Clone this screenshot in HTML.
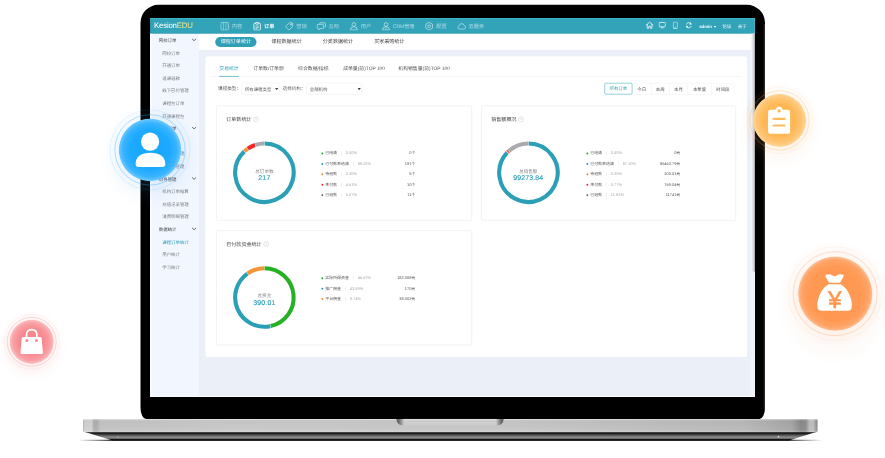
<!DOCTYPE html>
<html lang="zh-CN">
<head>
<meta charset="utf-8">
<title>KesionEDU 课程订单统计</title>
<style>
*{box-sizing:border-box;margin:0;padding:0}
html,body{width:885px;height:458px;background:#fff;overflow:hidden}
body{position:relative;text-rendering:geometricPrecision;-webkit-font-smoothing:antialiased;font-family:"Liberation Sans","Noto Sans CJK SC",sans-serif}
.abs{position:absolute}
/* laptop */
.bezel{position:absolute;left:140.6px;top:4.9px;width:624.5px;height:415.2px;background:#000;border-radius:18px 18px 6px 6px / 18px 18px 11px 11px}
.screen{position:absolute;left:150px;top:18px;width:605px;height:379px;overflow:hidden;background:#eaeff8}
.base{position:absolute;left:0;top:0;width:885px;height:458px}
/* ui */
.ui{position:absolute;left:.3px;top:0;width:1920px;height:1202px;transform:scale(.3151);transform-origin:0 0;background:#eaeff8;color:#333;font-size:14px}
.hd{position:absolute;left:0;top:0;width:1920px;height:50px;background:#33a3b9;border-top:3px solid #3cb8ce;box-shadow:inset 4px 0 0 #2f97ac,inset -4px 0 0 #3bb2c8,inset 0 -2px 0 #2d9bb0}
.logo{position:absolute;left:13px;top:4.500px;font-size:25px;line-height:33px;color:#fff;letter-spacing:-.75px;}
.logo em{font-style:normal;color:#f1e88a}
.nav{position:absolute;left:206.4px;top:-1px;height:48px;display:flex;list-style:none}
.nav li{display:flex;align-items:center;padding:0 0 0 18px;width:102.4px;font-size:16.5px;color:#a9dde7;height:48px;white-space:nowrap}
.nav li svg{width:28px;height:28px;margin:0 8px 0 -1px;flex:none;opacity:.8}
.nav li.on{color:#fff;font-weight:bold}
.nav li.on svg{opacity:1}
.hr{position:absolute;top:-1px;height:48px;display:flex;align-items:center;color:#e8f6f9;font-size:15px;white-space:nowrap}
.hr svg{display:block;position:relative;top:-3px}
.side{position:absolute;left:0;top:50px;width:156px;height:1152px;background:#f1f6ff;border-left:5px solid #fafcff}
.side div{position:absolute;left:0;width:151px;height:40px;line-height:43px;font-size:14px;white-space:nowrap}
.side .g{padding-left:23px;color:#444}
.side .s{padding-left:34px;color:#7d8088}
.side .s.on{color:#2a9fb6}
.side .g svg{position:absolute;left:127px;top:14px}
.sub{position:absolute;left:156px;top:50px;width:1764px;height:51px;background:#fff}
.sub a{position:absolute;top:10px;height:32px;line-height:32px;width:131px;text-align:center;font-size:16px;color:#444;border-radius:16px;white-space:nowrap}
.sub a.on{background:#2f9fb5;color:#fff}
.sbar{position:absolute;left:1906px;top:50px;width:14px;height:1152px;background:#f0f3f9}
.sbar i{position:absolute;left:5px;top:0;width:9px;height:755px;background:linear-gradient(90deg,#e6e8ee,#d3d6dc 45%,#b3b5ba 80%,#8f9196);display:block}
.card{position:absolute;left:176px;top:121px;width:1719px;height:955px;background:#fff;border-radius:9px}
.tabs{position:absolute;left:196px;top:140px;width:1678px;height:46px;border-bottom:2px solid #edf0f2}
.tabs a{position:absolute;top:0;height:46px;line-height:40px;font-size:15.4px;color:#555;white-space:nowrap}
.tabs a.on{color:#2a9fb6;border-bottom:2px solid #2a9fb6}
.lab{position:absolute;top:208px;height:36px;line-height:36px;font-size:14.5px;color:#606266;white-space:nowrap}
.sel{position:absolute;top:206px;height:37px;line-height:38px;border:1.5px solid #d9e5e8;border-radius:5px;font-size:14px;color:#555;padding-left:10px;white-space:nowrap;background:#fff}
.sel:after{content:"";position:absolute;right:3px;top:15px;border:5px solid transparent;border-top:7px solid #444;border-bottom:0}
.bt{position:absolute;top:206px;height:37px;display:flex}
.bt span{display:block;height:37px;line-height:38px;color:#4a4a4a;border:1.5px solid #dfe7e8;border-left:0;font-size:14px;text-align:center;white-space:nowrap}
.bt span.on{border:2px solid #5ab8ca;color:#2a9fb6;border-radius:4px;line-height:35px}
.panel{position:absolute;border:2px solid #e9eeee;border-radius:5px;background:#fff}
.ptitle{position:absolute;left:30px;top:28px;font-size:16px;line-height:30px;color:#444;white-space:nowrap}
.info{display:inline-block;vertical-align:middle;margin:-2px 0 0 6px;width:17px;height:17px;border:1.6px solid #aaa;border-radius:50%;text-align:center;line-height:13px;font-size:12px;color:#999}
.info i{font-style:normal;font-family:"Liberation Serif",serif}
.donut{position:absolute;left:40px;top:101px}
.dc{position:absolute;left:40px;top:101px;width:220px;height:220px;text-align:center}
.dl{margin-top:97px;font-size:14.5px;line-height:18px;color:#888}
.dv{font-size:22px;line-height:21px;color:#2a9fb6;letter-spacing:.5px;-webkit-text-stroke:.45px #2a9fb6}
.lg{position:absolute;left:330.5px;top:133px;width:299.5px;list-style:none}
.lg li{position:relative;height:33px;line-height:33px;font-size:12.5px;color:#555;white-space:nowrap;display:flex;align-items:center}
.lg b{width:6px;height:6px;border-radius:50%;margin:0 6.5px 0 1px;flex:none}
.lg .sp{width:2px;height:13px;background:#e6e8ea;margin:0 13px 0 13px}
.lg .p{color:#a6a8ab}
.lg .v{margin-left:auto;color:#555}
/* floating badges */
.fb{position:absolute;border-radius:50%}
.ring{position:absolute;border-radius:50%;border-style:solid}
</style>
</head>
<body>
<svg class="base" viewBox="0 0 885 458"><path d="M158.500 4.800 H747 A18 18 0 0 1 765 22.800 V408 A6 11.200 0 0 1 759 419.200 H146.500 A6 11.200 0 0 1 140.500 408 V22.800 A18 18 0 0 1 158.500 4.800 Z" fill="#000"/><path d="M764.300 24 V409" stroke="#262626" stroke-width="1.400"/></svg>
<svg class="base" viewBox="0 0 885 458">
 <defs>
  <linearGradient id="bg1" gradientUnits="userSpaceOnUse" x1="83" y1="0" x2="817.6" y2="0">
   <stop offset="0" stop-color="#b4b4b4"/><stop offset=".0022" stop-color="#d0d0d0"/><stop offset=".012" stop-color="#d2d2d2"/><stop offset=".0145" stop-color="#b0b0b0"/><stop offset=".018" stop-color="#adadad"/><stop offset=".024" stop-color="#c3c3c3"/>
   <stop offset=".2" stop-color="#c9c9c9"/><stop offset=".6" stop-color="#c6c6c6"/><stop offset=".9" stop-color="#b9b9b9"/>
   <stop offset=".965" stop-color="#a6a6a6"/><stop offset=".977" stop-color="#8a8a8a"/><stop offset=".984" stop-color="#8e8e8e"/><stop offset=".989" stop-color="#bdbdbd"/><stop offset=".994" stop-color="#c0c0c0"/><stop offset=".9975" stop-color="#9c9c9c"/><stop offset="1" stop-color="#8c8c8c"/>
  </linearGradient>
  <linearGradient id="bg2" x1="0" y1="0" x2="0" y2="1">
   <stop offset="0" stop-color="#151515"/><stop offset=".16" stop-color="#1b1b1b"/><stop offset=".4" stop-color="#5a5a5a"/><stop offset=".62" stop-color="#909090"/><stop offset=".76" stop-color="#6e6e6e"/><stop offset=".86" stop-color="#161616"/><stop offset="1" stop-color="#0c0c0c"/>
  </linearGradient>
  <linearGradient id="bg4" x1="0" y1="0" x2="0" y2="1">
   <stop offset="0" stop-color="#fff" stop-opacity=".55"/><stop offset=".1" stop-color="#fff" stop-opacity=".1"/><stop offset=".2" stop-color="#000" stop-opacity=".02"/><stop offset=".8" stop-color="#fff" stop-opacity=".03"/><stop offset=".95" stop-color="#fff" stop-opacity=".18"/><stop offset="1" stop-color="#000" stop-opacity=".15"/>
  </linearGradient>
  <linearGradient id="sh1" gradientUnits="userSpaceOnUse" x1="78" y1="0" x2="822" y2="0">
   <stop offset="0" stop-color="#000" stop-opacity="0"/><stop offset=".045" stop-color="#000" stop-opacity=".75"/><stop offset=".955" stop-color="#000" stop-opacity=".75"/><stop offset="1" stop-color="#000" stop-opacity="0"/>
  </linearGradient>
  <linearGradient id="ng" gradientUnits="userSpaceOnUse" x1="396" y1="0" x2="504" y2="0"><stop offset="0" stop-color="#8a8a8a"/><stop offset=".018" stop-color="#5c5c5c"/><stop offset=".04" stop-color="#858585"/><stop offset=".075" stop-color="#cdcdcd"/><stop offset=".925" stop-color="#cdcdcd"/><stop offset=".96" stop-color="#858585"/><stop offset=".982" stop-color="#5c5c5c"/><stop offset="1" stop-color="#8a8a8a"/></linearGradient>
  <radialGradient id="nc" cx=".5" cy=".5" r=".5"><stop offset="0" stop-color="#555" stop-opacity=".75"/><stop offset=".45" stop-color="#777" stop-opacity=".45"/><stop offset="1" stop-color="#888" stop-opacity="0"/></radialGradient>
  <clipPath id="ncp"><path d="M396 418.900 L504 418.900 Q502.500 425.300 497.500 425.300 L402.500 425.300 Q397.500 425.300 396 418.900 Z"/></clipPath>
 </defs>
 <rect x="78" y="439.700" width="744" height="1.300" fill="url(#sh1)"/>
 <path d="M85 432 L816 432 L789 440.500 L112.500 440.500 Z" fill="url(#bg2)"/>
 <path d="M83 420.100 Q83 418.900 84.500 418.900 L816.100 418.900 Q817.600 418.900 817.600 420.100 L817.600 430.700 Q817.600 432.300 815.600 432.300 L85 432.300 Q83 432.300 83 430.700 Z" fill="url(#bg1)"/>
 <path d="M83 420.100 Q83 418.900 84.500 418.900 L816.100 418.900 Q817.600 418.900 817.600 420.100 L817.600 430.700 Q817.600 432.300 815.600 432.300 L85 432.300 Q83 432.300 83 430.700 Z" fill="url(#bg4)"/>
 <path d="M396 418.900 L504 418.900 Q502.500 425.300 497.500 425.300 L402.500 425.300 Q397.500 425.300 396 418.900 Z" fill="url(#ng)"/>
 <path d="M403.500 419.400 H496.500" stroke="#fff" stroke-opacity=".45" stroke-width=".8"/>
 <circle cx="778.500" cy="436.700" r=".9" fill="#eee" opacity=".8"/><circle cx="118" cy="436.900" r=".7" fill="#ddd" opacity=".6"/>
</svg>
<div class="screen">
<div class="ui">
 <div class="hd">
  <div class="logo">Kesion<em>EDU</em></div>
  <ul class="nav">
   <li><svg viewBox="0 0 26 26" fill="none" stroke="#fff" stroke-width="1.8"><rect x="2" y="1.5" width="22" height="23" rx="4"/><path d="M9.5 2v22M16.5 2v22" stroke-width="1.3"/></svg>内容</li>
   <li class="on"><svg viewBox="0 0 26 26" fill="none" stroke="#fff" stroke-width="2.4"><rect x="3.5" y="4.5" width="19" height="20" rx="2.5"/><rect x="8.5" y="1.8" width="9" height="5" rx="1.5" fill="#33a3b9"/><path d="M8 12.5h10M8 16.5h10M8 20.3h6" stroke-width="1.8"/></svg>订单</li>
   <li><svg viewBox="0 0 26 26" fill="none" stroke="#fff" stroke-width="1.9" stroke-linejoin="round"><path d="M13.5 3 L23 3.5 L23.5 13 L12 24.5 L2 14.5 Z"/><circle cx="18.3" cy="8.2" r="2"/></svg>营销</li>
   <li><svg style="width:31px;margin-left:-4px" viewBox="0 0 28 26" fill="none" stroke="#fff" stroke-width="1.9" stroke-linejoin="round"><path d="M9 5.5 Q9 3 11.5 3 H24 Q26.5 3 26.5 5.5 V13 Q26.5 15.5 24 15.5 H22"/><path d="M2 10 Q2 7.5 4.5 7.5 H18 Q20.500 7.5 20.500 10 V17.5 Q20.500 20 18 20 H11 L6.500 24 V20 H4.500 Q2 20 2 17.500 Z"/></svg>互动</li>
   <li><svg viewBox="0 0 26 26" fill="none" stroke="#fff" stroke-width="1.9"><circle cx="13" cy="8" r="5.5"/><path d="M2.500 24 Q2.500 14.500 13 14.500 Q23.500 14.500 23.500 24 Z" stroke-linejoin="round"/></svg>用户</li>
   <li style="width:137px"><svg viewBox="0 0 26 26" fill="none" stroke="#fff" stroke-width="1.9"><circle cx="13" cy="8" r="5.5"/><path d="M2.500 24 Q2.500 14.500 13 14.500 Q23.500 14.500 23.500 24 Z" stroke-linejoin="round"/><path d="M13 15 v9" stroke-width="1.2"/></svg><span style="letter-spacing:-.8px">CRM</span>管理</li>
   <li><svg viewBox="0 0 26 26" fill="none" stroke="#fff" stroke-width="1.9" stroke-linejoin="round"><path d="M13 1.800 L23 7.400 V18.600 L13 24.200 L3 18.600 V7.400 Z"/><circle cx="13" cy="13" r="4"/></svg>配置</li>
   <li><svg style="width:28px;margin-left:-1px;margin-right:8px" viewBox="0 0 28 26" fill="none" stroke="#fff" stroke-width="1.9" stroke-linejoin="round"><path d="M7.500 22 Q2 22 2 16.800 Q2 12.500 6.500 11.800 Q7.500 5 14.500 5 Q20.500 5 22 10.800 Q26.500 11.500 26.500 16.500 Q26.500 22 21 22 Z"/></svg>云服务</li>
  </ul>
  <div class="hr" style="left:1573px"><svg width="25" height="24" viewBox="0 0 25 24" fill="none" stroke="#fff" stroke-width="2.400" stroke-linejoin="round" stroke-linecap="round"><path d="M2 11.500 L12.500 2 L23 11.500 M5 9.500 V21.500 H10 V15 H15 V21.500 H20 V9.500"/></svg></div>
  <div class="hr" style="left:1614px"><svg width="23" height="22" viewBox="0 0 23 22" fill="none" stroke="#fff" stroke-width="2.400" stroke-linejoin="round"><rect x="1.500" y="2" width="20" height="14" rx="2.500"/><path d="M7 19.500 H16" stroke-width="2.400"/></svg></div>
  <div class="hr" style="left:1659px"><svg width="16" height="24" viewBox="0 0 16 24" fill="none" stroke="#fff" stroke-width="2"><rect x="1.500" y="1.500" width="13" height="21" rx="2.500"/><path d="M5.500 18.500 H10.500" stroke-width="1.600"/></svg></div>
  <div class="hr" style="left:1698px"><svg width="24" height="24" viewBox="0 0 24 24" fill="none" stroke="#fff" stroke-width="2.300"><path d="M4 10 A8.500 8.500 0 0 1 19.500 8 M20 14 A8.500 8.500 0 0 1 4.500 16"/><path d="M17 3.500 L20.500 8.500 L14.500 9.500 Z M7 20.500 L3.500 15.500 L9.500 14.500 Z" fill="#fff" stroke-width="1"/></svg></div>
  <div class="hr" style="left:1743px;font-weight:bold;font-size:14px;letter-spacing:-.2px;padding-top:3px;color:#f2fbfd">admin<span style="display:inline-block;margin-left:6px;border:4.500px solid transparent;border-top:6px solid #fff;border-bottom:0"></span></div>
  <div class="hr" style="left:1816px;font-size:14.5px">论坛</div>
  <div class="hr" style="left:1865px;font-size:14.5px">关于</div>
 </div>
 <div class="side">
  <div class="g" style="top:0">网校订单<svg width="16" height="10" viewBox="0 0 16 10" fill="none" stroke="#3a3a3a" stroke-width="2.4"><path d="M1.500 2l6.500 6 6.500-6"/></svg></div>
  <div class="s" style="top:40px">网校订单</div>
  <div class="s" style="top:80px">开通订单</div>
  <div class="s" style="top:120px">退课退款</div>
  <div class="s" style="top:160px">线下已付管理</div>
  <div class="s" style="top:200px">课程包订单</div>
  <div class="s" style="top:240px">开通课程包</div>
  <div class="g" style="top:280px">商城订单<svg width="16" height="10" viewBox="0 0 16 10" fill="none" stroke="#3a3a3a" stroke-width="2.4"><path d="M1.500 2l6.500 6 6.500-6"/></svg></div>
  <div class="s" style="top:320px">商城订单</div>
  <div class="s" style="top:360px">发货单管理</div>
  <div class="s" style="top:400px">退款单管理</div>
  <div class="g" style="top:440px">财务管理<svg width="16" height="10" viewBox="0 0 16 10" fill="none" stroke="#3a3a3a" stroke-width="2.4"><path d="M1.500 2l6.500 6 6.500-6"/></svg></div>
  <div class="s" style="top:480px">机构订单结算</div>
  <div class="s" style="top:520px">充值记录管理</div>
  <div class="s" style="top:560px">消费明细管理</div>
  <div class="g" style="top:600px">数据统计<svg width="16" height="10" viewBox="0 0 16 10" fill="none" stroke="#3a3a3a" stroke-width="2.4"><path d="M1.500 2l6.500 6 6.500-6"/></svg></div>
  <div class="s on" style="top:640px">课程订单统计</div>
  <div class="s" style="top:680px">用户统计</div>
  <div class="s" style="top:720px">学习统计</div>
 </div>
 <div class="sub">
  <a class="on" style="left:51px">课程订单统计</a>
  <a style="left:212px">课程数据统计</a>
  <a style="left:375px">分类数据统计</a>
  <a style="left:538px">买家采购统计</a>
 </div>
 <div class="sbar"><i></i></div>
 <div style="position:absolute;left:0;top:1199px;width:1920px;height:4px;background:#f9fbff"></div>
 <div class="card"></div>
 <div class="tabs">
  <a class="on" style="left:24px">交易统计</a>
  <a style="left:132px">订单数/订单额</a>
  <a style="left:274px">综合数据/指标</a>
  <a style="left:417px">成单量(前)TOP 100</a>
  <a style="left:592px">机构销售量(前)TOP 100</a>
 </div>
 <div class="lab" style="left:216px">课程类型：</div>
 <div class="sel" style="left:290px;width:121px">所有课程类型</div>
 <div class="lab" style="left:421px">选择机构：</div>
 <div class="sel" style="left:496px;width:177px">全部机构</div>
 <div class="bt" style="left:1442px">
  <span class="on" style="width:89px">所有订单</span><span style="width:60px">今日</span><span style="width:57px">本周</span><span style="width:59px">本月</span><span style="width:75px">本年度</span><span style="width:73px;border-radius:0 4px 4px 0">时间段</span>
 </div>
<div class="panel" style="left:210px;top:278px;width:812px;height:365px">
<div class="ptitle">订单数统计<span class="info"><i>i</i></span></div>
<svg class="donut" style="left:41px" width="220" height="220" viewBox="0 0 220 220"><g fill="none" stroke-width="13.0"><path d="M110.57 17.20A92.8 92.8 0 1 1 46.15 42.66" stroke="#2a9fb6"/><path d="M46.97 41.89A92.8 92.8 0 0 1 56.51 34.17" stroke="#f29438"/><path d="M57.44 33.52A92.8 92.8 0 0 1 80.40 22.05" stroke="#ee2a2a"/><path d="M81.47 21.69A92.8 92.8 0 0 1 109.43 17.20" stroke="#a9abaf"/></g></svg>
<div class="dc" style="left:41px"><div class="dl">总订单数</div><div class="dv">217</div></div>
<ul class="lg">
<li><b style="background:#1aad19"></b><span class="n">已结清</span><span class="sp"></span><span class="p">0.00%</span><span class="v">0个</span></li>
<li><b style="background:#1b8fbf"></b><span class="n">已付款未结清</span><span class="sp"></span><span class="p">88.02%</span><span class="v">191个</span></li>
<li><b style="background:#f5821f"></b><span class="n">待退款</span><span class="sp"></span><span class="p">2.30%</span><span class="v">5个</span></li>
<li><b style="background:#f5222d"></b><span class="n">未付款</span><span class="sp"></span><span class="p">4.61%</span><span class="v">10个</span></li>
<li><b style="background:#555"></b><span class="n">已退款</span><span class="sp"></span><span class="p">5.07%</span><span class="v">11个</span></li>
</ul></div>
<div class="panel" style="left:1051px;top:278px;width:809px;height:365px">
<div class="ptitle">销售额概况<span class="info"><i>i</i></span></div>
<svg class="donut" style="left:37.5px" width="220" height="220" viewBox="0 0 220 220"><g fill="none" stroke-width="13.0"><path d="M110.57 17.20A92.8 92.8 0 1 1 42.36 46.46" stroke="#2a9fb6"/><path d="M43.14 45.64A92.8 92.8 0 0 1 43.57 45.20" stroke="#f29438"/><path d="M44.37 44.39A92.8 92.8 0 0 1 46.78 42.06" stroke="#ee2a2a"/><path d="M47.62 41.29A92.8 92.8 0 0 1 109.43 17.20" stroke="#a9abaf"/></g></svg>
<div class="dc" style="left:37.5px"><div class="dl">总销售额</div><div class="dv">99273.84</div></div>
<ul class="lg">
<li><b style="background:#1aad19"></b><span class="n">已结清</span><span class="sp"></span><span class="p">0.00%</span><span class="v">0元</span></li>
<li><b style="background:#1b8fbf"></b><span class="n">已付款未结清</span><span class="sp"></span><span class="p">87.10%</span><span class="v">86463.79元</span></li>
<li><b style="background:#f5821f"></b><span class="n">待退款</span><span class="sp"></span><span class="p">0.30%</span><span class="v">300.01元</span></li>
<li><b style="background:#f5222d"></b><span class="n">未付款</span><span class="sp"></span><span class="p">0.77%</span><span class="v">769.04元</span></li>
<li><b style="background:#555"></b><span class="n">已退款</span><span class="sp"></span><span class="p">11.83%</span><span class="v">11741元</span></li>
</ul></div>
<div class="panel" style="left:210px;top:674px;width:812px;height:365px">
<div class="ptitle">已付款资金统计<span class="info"><i>i</i></span></div>
<svg class="donut" style="left:41px" width="220" height="220" viewBox="0 0 220 220"><g fill="none" stroke-width="13.0"><path d="M110.57 17.20A92.8 92.8 0 0 1 129.83 200.66" stroke="#27b024"/><path d="M128.72 200.89A92.8 92.8 0 0 1 56.22 34.37" stroke="#2a9fb6"/><path d="M57.15 33.72A92.8 92.8 0 0 1 109.43 17.20" stroke="#f29438"/></g></svg>
<div class="dc" style="left:41px"><div class="dl">总资金</div><div class="dv">390.01</div></div>
<ul class="lg">
<li><b style="background:#1aad19"></b><span class="n">实际所得资金</span><span class="sp"></span><span class="p">46.67%</span><span class="v">182.008元</span></li>
<li><b style="background:#1b8fbf"></b><span class="n">推广佣金</span><span class="sp"></span><span class="p">43.59%</span><span class="v">170元</span></li>
<li><b style="background:#f5821f"></b><span class="n">平台佣金</span><span class="sp"></span><span class="p">9.74%</span><span class="v">38.002元</span></li>
</ul></div>
</div>
</div>
<!-- floating badges -->
<svg class="base" viewBox="0 0 885 458">
<defs>
<radialGradient id="bs1"><stop offset="0" stop-color="rgb(90,150,220)" stop-opacity="0.065"/><stop offset=".55" stop-color="rgb(90,150,220)" stop-opacity="0.065"/><stop offset=".78" stop-color="rgb(90,150,220)" stop-opacity="0.026"/><stop offset="1" stop-color="rgb(90,150,220)" stop-opacity="0"/></radialGradient>
<radialGradient id="gl1"><stop offset="0" stop-color="rgb(90,185,255)" stop-opacity="0.060"/><stop offset="0.68" stop-color="rgb(90,185,255)" stop-opacity="0.060"/><stop offset="0.87" stop-color="rgb(90,185,255)" stop-opacity="0.020"/><stop offset="1" stop-color="rgb(90,185,255)" stop-opacity="0"/></radialGradient>
<radialGradient id="dg1"><stop offset="0" stop-color="#17a7ff"/><stop offset=".62" stop-color="#1ca9ff"/><stop offset=".86" stop-color="#38b4ff"/><stop offset=".975" stop-color="#68c6ff"/><stop offset="1" stop-color="#7fd0ff" stop-opacity=".25"/></radialGradient>
<radialGradient id="bs2"><stop offset="0" stop-color="rgb(230,160,90)" stop-opacity="0.065"/><stop offset=".55" stop-color="rgb(230,160,90)" stop-opacity="0.065"/><stop offset=".78" stop-color="rgb(230,160,90)" stop-opacity="0.026"/><stop offset="1" stop-color="rgb(230,160,90)" stop-opacity="0"/></radialGradient>
<radialGradient id="gl2"><stop offset="0" stop-color="rgb(255,185,100)" stop-opacity="0.060"/><stop offset="0.68" stop-color="rgb(255,185,100)" stop-opacity="0.060"/><stop offset="0.85" stop-color="rgb(255,185,100)" stop-opacity="0.020"/><stop offset="1" stop-color="rgb(255,185,100)" stop-opacity="0"/></radialGradient>
<radialGradient id="dg2"><stop offset="0" stop-color="#ffb550"/><stop offset=".6" stop-color="#ffb856"/><stop offset=".86" stop-color="#ffc676"/><stop offset=".975" stop-color="#ffd494"/><stop offset="1" stop-color="#ffdca8" stop-opacity=".25"/></radialGradient>
<radialGradient id="bs3"><stop offset="0" stop-color="rgb(225,140,90)" stop-opacity="0.065"/><stop offset=".55" stop-color="rgb(225,140,90)" stop-opacity="0.065"/><stop offset=".78" stop-color="rgb(225,140,90)" stop-opacity="0.026"/><stop offset="1" stop-color="rgb(225,140,90)" stop-opacity="0"/></radialGradient>
<radialGradient id="gl3"><stop offset="0" stop-color="rgb(255,160,100)" stop-opacity="0.060"/><stop offset="0.69" stop-color="rgb(255,160,100)" stop-opacity="0.060"/><stop offset="0.87" stop-color="rgb(255,160,100)" stop-opacity="0.020"/><stop offset="1" stop-color="rgb(255,160,100)" stop-opacity="0"/></radialGradient>
<radialGradient id="dg3"><stop offset="0" stop-color="#ff964f"/><stop offset=".72" stop-color="#ff9953"/><stop offset=".9" stop-color="#ffa467"/><stop offset=".975" stop-color="#ffb98d"/><stop offset="1" stop-color="#ffc6a0" stop-opacity=".25"/></radialGradient>
<radialGradient id="bs4"><stop offset="0" stop-color="rgb(235,130,135)" stop-opacity="0.065"/><stop offset=".55" stop-color="rgb(235,130,135)" stop-opacity="0.065"/><stop offset=".78" stop-color="rgb(235,130,135)" stop-opacity="0.026"/><stop offset="1" stop-color="rgb(235,130,135)" stop-opacity="0"/></radialGradient>
<radialGradient id="gl4"><stop offset="0" stop-color="rgb(255,150,150)" stop-opacity="0.060"/><stop offset="0.67" stop-color="rgb(255,150,150)" stop-opacity="0.060"/><stop offset="0.83" stop-color="rgb(255,150,150)" stop-opacity="0.020"/><stop offset="1" stop-color="rgb(255,150,150)" stop-opacity="0"/></radialGradient>
<radialGradient id="dg4"><stop offset="0" stop-color="#f6838a"/><stop offset=".55" stop-color="#f7898f"/><stop offset=".84" stop-color="#f9a0a4"/><stop offset=".975" stop-color="#fcbcbf"/><stop offset="1" stop-color="#fdc8ca" stop-opacity=".25"/></radialGradient>
</defs>
<circle cx="150.0" cy="159.3" r="50.9" fill="url(#bs1)"/>
<circle cx="779.5" cy="128.4" r="43.3" fill="url(#bs2)"/>
<circle cx="835.2" cy="304.9" r="60.6" fill="url(#bs3)"/>
<circle cx="31.7" cy="348.5" r="36.0" fill="url(#bs4)"/>
<circle cx="150.0" cy="149.9" r="46.0" fill="url(#gl1)"/>
<circle cx="150.0" cy="149.9" r="40.0" fill="none" stroke="rgb(40,165,255)" stroke-opacity="0.14" stroke-width=".8"/>
<circle cx="150.0" cy="149.9" r="35.2" fill="none" stroke="rgb(40,165,255)" stroke-opacity="0.42" stroke-width=".8"/>
<circle cx="150.0" cy="149.9" r="31.4" fill="url(#dg1)"/>
<g transform="translate(134.100 130.200)" fill="#fff"><circle cx="16" cy="11.500" r="9.100"/><path d="M1.500 33.800 C1.500 26.300 7.500 22.600 16.300 22.600 C25 22.600 31.200 26.300 31.200 33.800 Q31.200 36.800 28.200 36.800 L4.500 36.800 Q1.500 36.800 1.500 33.800 Z"/></g>
<circle cx="779.5" cy="120.4" r="39.0" fill="url(#gl2)"/>
<circle cx="779.5" cy="120.4" r="33.2" fill="none" stroke="rgb(255,170,80)" stroke-opacity="0.10" stroke-width=".8"/>
<circle cx="779.5" cy="120.4" r="29.7" fill="none" stroke="rgb(255,170,80)" stroke-opacity="0.36" stroke-width=".8"/>
<circle cx="779.5" cy="120.4" r="26.7" fill="url(#dg2)"/>
<g transform="translate(767.100 105.700)"><path d="M1 6 Q1 4 3 4 L8.500 4 Q9 1 12 1 Q15 1 15.500 4 L21 4 Q23 4 23 6 L23 26 Q23 28 21 28 L3 28 Q1 28 1 26 Z" fill="#fff"/><circle cx="12" cy="5.200" r="1.700" fill="#ffb856"/><path d="M6.500 13.200 H17.500 M6.500 19.800 H17.500" stroke="#ffbb5c" stroke-width="2.100" stroke-linecap="round"/></g>
<circle cx="835.2" cy="293.7" r="54.0" fill="url(#gl3)"/>
<circle cx="835.2" cy="293.7" r="46.9" fill="none" stroke="rgb(255,145,85)" stroke-opacity="0.10" stroke-width=".8"/>
<circle cx="835.2" cy="293.7" r="42.0" fill="none" stroke="rgb(255,145,85)" stroke-opacity="0.36" stroke-width=".8"/>
<circle cx="835.2" cy="293.7" r="37.4" fill="url(#dg3)"/>
<g transform="translate(814.600 272.300)"><path d="M11.500 2.500 Q15 1.200 17.500 3 Q20 4.800 22.500 3 Q25.500 1.200 28.500 2.500 Q29.500 3.200 28.800 4.500 L25.500 10.500 L14.500 10.500 L11 4.500 Q10.500 3.200 11.500 2.500 Z" fill="#fff"/><path d="M14 12 L26 12 Q32 15 35.500 24 Q38 31 37 35.500 Q36.500 38.500 33 38.500 L7 38.500 Q3.500 38.500 3 35.500 Q2 31 4.500 24 Q8 15 14 12 Z" fill="#fff"/><text x="20.300" y="35.400" font-family="Liberation Sans, sans-serif" font-size="24.500" text-anchor="middle" fill="#ff964f" stroke="#ff964f" stroke-width=".5">¥</text></g>
<circle cx="31.7" cy="341.8" r="33.0" fill="url(#gl4)"/>
<circle cx="31.7" cy="341.8" r="27.5" fill="none" stroke="rgb(250,125,130)" stroke-opacity="0.12" stroke-width=".8"/>
<circle cx="31.7" cy="341.8" r="24.5" fill="none" stroke="rgb(250,125,130)" stroke-opacity="0.36" stroke-width=".8"/>
<circle cx="31.7" cy="341.8" r="22.2" fill="url(#dg4)"/>
<g transform="translate(19.700 327.100)"><path d="M6.800 11 V8 Q6.800 2.500 12 2.500 Q17.200 2.500 17.200 8 V11" fill="none" stroke="#fff" stroke-width="1.700"/><path d="M3.500 10 L20.500 10 Q21.800 10 22 11.300 L23.200 25.500 Q23.300 27 21.800 27 L2.200 27 Q0.700 27 0.800 25.500 L2 11.300 Q2.200 10 3.500 10 Z" fill="#fff"/><circle cx="7.200" cy="13.300" r="1.500" fill="#f7898f"/><circle cx="16.800" cy="13.300" r="1.500" fill="#f7898f"/></g>
</svg>
</body>
</html>
